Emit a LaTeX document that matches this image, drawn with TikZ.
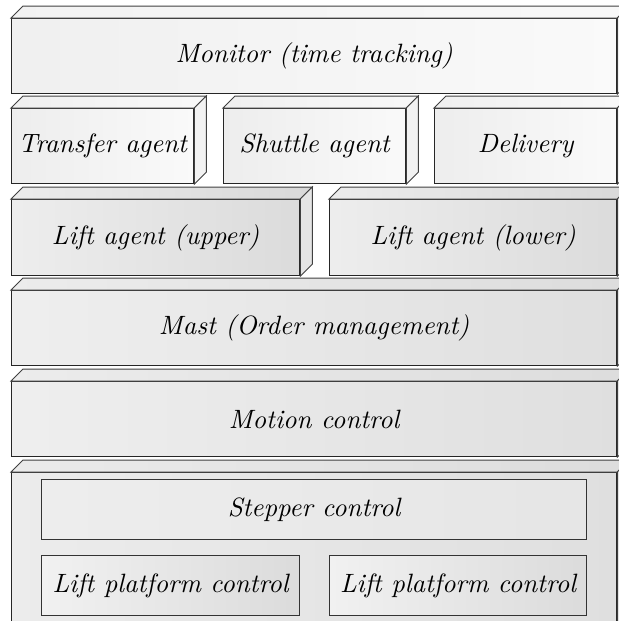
\documentclass[tikz,border=0pt]{standalone}
\usetikzlibrary{calc}

\newcommand{\pxu}{0.4pt}
\tikzset{
  block/.style={draw=black!85, line width=0.5pt, anchor=north west, inner sep=0pt,
    font=\fontsize{10.6}{12}\selectfont\itshape, minimum height=75*\pxu},
  face/.style={draw=black!75, line width=0.4pt},
  flat/.style={draw=black!80, line width=0.5pt, anchor=north west, inner sep=0pt,
    font=\fontsize{10.6}{12}\selectfont\itshape, minimum height=60*\pxu},
}
% top and side face of a block: name, top left colour, top right colour, side colour
\newcommand{\slab}[4]{%
  \draw[face, left color=#2, right color=#3] (#1.north west) -- ++(12,-12)
    -- ($(#1.north east)+(12,-12)$) -- (#1.north east) -- cycle;
  \draw[face, fill=#4] (#1.north east) -- ++(12,-12)
    -- ($(#1.south east)+(12,-12)$) -- (#1.south east) -- cycle;
}

\begin{document}
\begin{tikzpicture}[x=\pxu, y=-\pxu]
\useasboundingbox (0,0) rectangle (619,621);
\clip (0,0) rectangle (619,621);

\node [block, minimum width=605*\pxu, left color=gray!12, right color=gray!4] (monitor) at (11,18) {Monitor (time tracking)};
\slab{monitor}{gray!10}{gray!5}{gray!12}

\node [block, minimum width=182*\pxu, left color=gray!14, right color=gray!4] (transfer) at (11,108) {Transfer agent};
\node [block, minimum width=182*\pxu, left color=gray!14, right color=gray!4] (shuttle) at (223,108) {Shuttle agent};
\node [block, minimum width=182*\pxu, left color=gray!14, right color=gray!4] (delivery) at (434,108) {Delivery};
\slab{transfer}{gray!12}{gray!5}{gray!10}
\slab{shuttle}{gray!12}{gray!5}{gray!10}
\slab{delivery}{gray!12}{gray!5}{gray!10}

\node [block, minimum width=288*\pxu, minimum height=76*\pxu, left color=gray!14, right color=gray!28] (liftup) at (11,199) {Lift agent (upper)};
\node [block, minimum width=287*\pxu, minimum height=76*\pxu, left color=gray!14, right color=gray!28] (liftlow) at (329,199) {Lift agent (lower)};
\slab{liftup}{gray!15}{gray!30}{gray!20}
\slab{liftlow}{gray!15}{gray!30}{gray!20}

\node [block, minimum width=605*\pxu, left color=gray!13, right color=gray!25] (mast) at (11,290) {Mast (Order management)};
\slab{mast}{gray!15}{gray!27}{gray!22}

\node [block, minimum width=605*\pxu, left color=gray!13, right color=gray!25] (motion) at (11,381) {Motion control};
\slab{motion}{gray!15}{gray!27}{gray!22}

\node [block, minimum width=605*\pxu, minimum height=200*\pxu, left color=gray!15, right color=gray!25] (base) at (11,472) {};
\slab{base}{gray!16}{gray!27}{gray!22}

\node [flat, minimum width=545*\pxu, left color=gray!14, right color=gray!20] (stepper) at (41,479) {Stepper control};
\node [flat, minimum width=258*\pxu, left color=gray!11, right color=gray!28] (lpcA) at (41,555) {Lift platform control};
\node [flat, minimum width=257*\pxu, left color=gray!11, right color=gray!28] (lpcB) at (329,555) {Lift platform control};
\end{tikzpicture}
\end{document}
